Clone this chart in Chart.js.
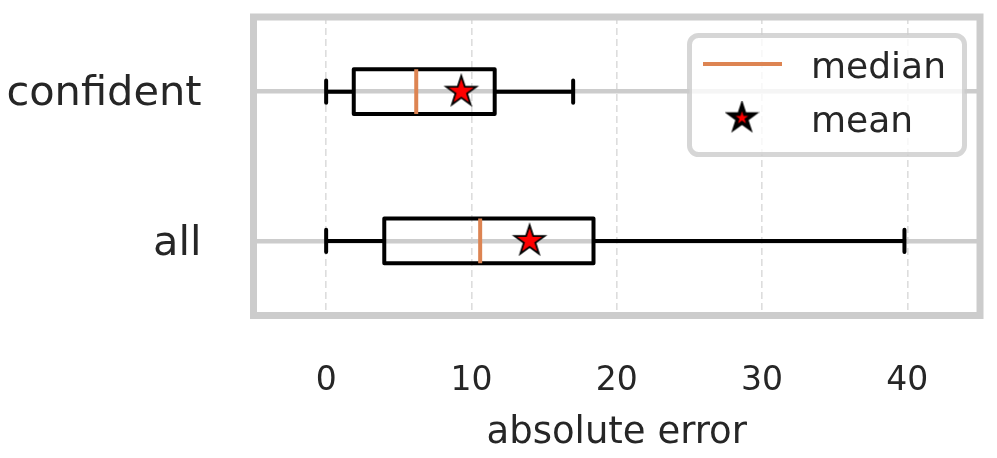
<!DOCTYPE html>
<html>
<head>
<meta charset="utf-8">
<script src="https://cdn.jsdelivr.net/npm/chart.js@4"></script>
<style>
  html, body { margin: 0; padding: 0; background: #ffffff; }
  #wrap { width: 997px; height: 458px; }
</style>
</head>
<body>
<div id="wrap"><canvas id="boxChart" width="997" height="458"></canvas></div>
<script>
// box plot values
var categories = ['all', 'confident'];
var positions = [1, 2];
var whiskerLow = [0, 0];
var q1 = [4.0, 1.9];
var medians = [10.6, 6.2];
var q3 = [18.4, 11.6];
var whiskerHigh = [39.8, 17.0];
var means = [14.0, 9.3];
var xTicks = [0, 10, 20, 30, 40];

var BOX_HALF = 0.15;
var CAP_HALF = 0.075;
var TEXT = '#262626';
var FONT = "'DejaVu Sans', sans-serif";
var ORANGE = '#dd8452';

function makeStar(R, lw) {
    var size = Math.ceil(2 * (R + lw)) + 2;
    var c = document.createElement('canvas');
    c.width = size;
    c.height = size;
    var g = c.getContext('2d');
    var cx = size / 2, cy = size / 2, r = R * 0.381966;
    g.beginPath();
    for (var k = 0; k < 10; k++) {
        var rad = (k % 2 == 0) ? R : r;
        var a = -Math.PI / 2 + k * Math.PI / 5;
        var px = cx + rad * Math.cos(a), py = cy + rad * Math.sin(a);
        if (k == 0) g.moveTo(px, py); else g.lineTo(px, py);
    }
    g.closePath();
    g.fillStyle = '#ff0000';
    g.fill();
    g.lineWidth = lw;
    g.lineJoin = 'miter';
    g.strokeStyle = '#000000';
    g.stroke();
    return c;
}
var plotStar = makeStar(15.8, 1.8);
var legendStar = makeStar(12.5, 3.6);

var gap = {x: null, y: null};
var boxPts = [], whiskerPts = [], capPts = [], medianPts = [], meanPts = [];
categories.forEach(function (name, i) {
    var p = positions[i];
    boxPts.push({x: q1[i], y: p - BOX_HALF}, {x: q3[i], y: p - BOX_HALF}, {x: q3[i], y: p + BOX_HALF},
                {x: q1[i], y: p + BOX_HALF}, {x: q1[i], y: p - BOX_HALF}, gap);
    whiskerPts.push({x: whiskerLow[i], y: p}, {x: q1[i], y: p}, gap, {x: q3[i], y: p}, {x: whiskerHigh[i], y: p}, gap);
    capPts.push({x: whiskerLow[i], y: p - CAP_HALF}, {x: whiskerLow[i], y: p + CAP_HALF}, gap,
                {x: whiskerHigh[i], y: p - CAP_HALF}, {x: whiskerHigh[i], y: p + CAP_HALF}, gap);
    medianPts.push({x: medians[i], y: p - BOX_HALF}, {x: medians[i], y: p + BOX_HALF}, gap);
    meanPts.push({x: means[i], y: p});
});

function lineSet(label, pts, color, cap) {
    return {
        label: label, data: pts, showLine: true, spanGaps: false,
        borderColor: color, borderWidth: 4, borderCapStyle: cap, borderJoinStyle: 'round',
        pointRadius: 0, fill: false
    };
}

var frame = {
    id: 'frame',
    afterDraw: function (chart) {
        var a = chart.chartArea, ctx = chart.ctx;
        ctx.save();
        ctx.lineWidth = 7;
        ctx.strokeStyle = '#cccccc';
        ctx.strokeRect(a.left, a.top, a.right - a.left, a.bottom - a.top);

        // legend in the upper right corner
        var lx = 689.5, ly = 35.5, lw = 275, lh = 119, rr = 9;
        ctx.beginPath();
        ctx.roundRect(lx, ly, lw, lh, rr);
        ctx.fillStyle = 'rgba(255,255,255,0.8)';
        ctx.fill();
        ctx.lineWidth = 5;
        ctx.strokeStyle = 'rgba(204,204,204,0.8)';
        ctx.stroke();

        var med = chart.data.datasets[1];
        ctx.beginPath();
        ctx.moveTo(703, 64);
        ctx.lineTo(782, 64);
        ctx.lineWidth = 4;
        ctx.strokeStyle = med.borderColor;
        ctx.stroke();
        ctx.drawImage(legendStar, 742 - legendStar.width / 2, 118 - legendStar.height / 2);

        ctx.fillStyle = TEXT;
        ctx.font = '36px ' + FONT;
        ctx.textAlign = 'left';
        ctx.textBaseline = 'alphabetic';
        ctx.fillText(med.label, 811, 78);
        ctx.fillText(chart.data.datasets[0].label, 811, 132);
        ctx.restore();
    }
};

new Chart(document.getElementById('boxChart'), {
    type: 'scatter',
    data: {
        datasets: [
            {label: 'mean', data: meanPts, pointStyle: plotStar, pointRadius: 16, showLine: false},
            lineSet('median', medianPts, ORANGE, 'butt'),
            lineSet('caps', capPts, '#000000', 'round'),
            lineSet('whiskers', whiskerPts, '#000000', 'butt'),
            lineSet('boxes', boxPts, '#000000', 'butt')
        ]
    },
    options: {
        responsive: false,
        animation: false,
        layout: {padding: {top: 16, right: 13, left: 0, bottom: 0}},
        plugins: {legend: {display: false}, tooltip: {enabled: false}},
        scales: {
            x: {
                type: 'linear', min: -5, max: 45,
                afterBuildTicks: function (axis) { axis.ticks = xTicks.map(function (v) { return {value: v}; }); },
                afterFit: function (axis) { axis.height = 142.5; axis.paddingLeft = 0; axis.paddingRight = 0; },
                grid: {color: '#dddddd', lineWidth: 1.6, drawTicks: false},
                border: {display: false, dash: [7, 4]},
                ticks: {color: TEXT, font: {family: FONT, size: 33}, padding: 46, maxRotation: 0},
                title: {display: true, text: 'absolute error', color: TEXT,
                        font: {family: FONT, size: 37}, padding: {top: 0, bottom: 2}}
            },
            y: {
                type: 'linear', min: 0.5, max: 2.5,
                afterBuildTicks: function (axis) { axis.ticks = positions.map(function (v) { return {value: v}; }); },
                afterFit: function (axis) { axis.width = 253.5; axis.paddingTop = 0; axis.paddingBottom = 0; },
                grid: {color: '#cccccc', lineWidth: 4.5, drawTicks: false},
                border: {display: false},
                ticks: {
                    color: TEXT, font: {family: FONT, size: 41.5}, padding: 52, labelOffset: 3,
                    callback: function (v) { return categories[positions.indexOf(v)]; }
                }
            }
        }
    },
    plugins: [frame]
});
</script>
</body>
</html>
